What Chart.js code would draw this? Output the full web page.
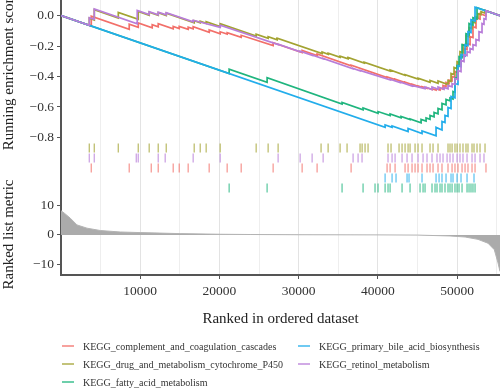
<!DOCTYPE html>
<html>
<head>
<meta charset="utf-8">
<script src="https://cdn.jsdelivr.net/npm/chart.js@4.4.1/dist/chart.umd.min.js"></script>
<style>
  html, body { margin: 0; padding: 0; background: #fff; }
  #wrap { position: relative; width: 500px; height: 390px; }
  #legend {
    position: absolute; left: 62px; top: 337px;
    display: grid; grid-template-columns: 236px auto;
    grid-template-rows: repeat(3, 18px); grid-auto-flow: column;
    font: 10px 'Liberation Serif', 'Times New Roman', serif; color: #333;
  }
  .item { display: flex; align-items: center; white-space: nowrap; }
  .key { width: 12px; height: 2px; margin-right: 9px; }
</style>
</head>
<body>
<div id="wrap">
  <canvas id="gsea" width="500" height="390"></canvas>
  <div id="legend"></div>
</div>
<script>
// running enrichment score, [rank, score]
const esComplement = [[0,0],[3820,-0.068],[3820,-0.003],[8610,-0.089],[8610,-0.056],[9750,-0.077],[9750,-0.047],[11510,-0.079],[11510,-0.059],[12270,-0.073],[12270,-0.053],[14160,-0.087],[14160,-0.071],[14920,-0.085],[14920,-0.070],[16050,-0.090],[16050,-0.075],[16680,-0.086],[16680,-0.073],[18700,-0.109],[18700,-0.094],[20090,-0.119],[20090,-0.106],[20970,-0.121],[20970,-0.111],[22740,-0.142],[22740,-0.129],[26770,-0.197],[26770,-0.177],[30430,-0.243],[30430,-0.228],[32320,-0.262],[32320,-0.252],[36610,-0.329],[36610,-0.325],[41150,-0.406],[41150,-0.402],[42160,-0.420],[42160,-0.417],[43420,-0.440],[43420,-0.437],[44300,-0.453],[44300,-0.450],[45060,-0.464],[45060,-0.461],[45560,-0.470],[45560,-0.467],[46190,-0.478],[46190,-0.473],[46820,-0.485],[46820,-0.479],[47330,-0.488],[47330,-0.479],[47830,-0.488],[47830,-0.475],[48210,-0.482],[48210,-0.459],[48590,-0.466],[48590,-0.439],[48970,-0.446],[48970,-0.423],[49350,-0.429],[49350,-0.400],[49720,-0.407],[49720,-0.367],[50100,-0.374],[50100,-0.315],[50480,-0.321],[50480,-0.262],[50860,-0.269],[50860,-0.216],[51240,-0.223],[51240,-0.184],[51620,-0.190],[51620,-0.138],[51990,-0.144],[51990,-0.072],[52370,-0.079],[52370,-0.013],[52880,-0.022],[52880,0.013],[53630,-0.001],[53630,0.032],[55400,0]];
const esDrug = [[0,0],[3570,-0.064],[3570,-0.016],[4200,-0.028],[4200,0.039],[7230,-0.015],[7230,0.022],[9750,-0.024],[9750,0.028],[11130,0.003],[11130,0.023],[12270,0.003],[12270,0.020],[13280,0.001],[13280,0.016],[16810,-0.047],[16810,-0.033],[17570,-0.047],[17570,-0.036],[18320,-0.050],[18320,-0.039],[20090,-0.071],[20090,-0.052],[24630,-0.134],[24630,-0.121],[26140,-0.148],[26140,-0.138],[27280,-0.158],[27280,-0.148],[32950,-0.249],[32950,-0.239],[33710,-0.253],[33710,-0.246],[35220,-0.273],[35220,-0.266],[36230,-0.284],[36230,-0.275],[38250,-0.311],[38250,-0.305],[41530,-0.364],[41530,-0.357],[43420,-0.391],[43420,-0.387],[45060,-0.416],[45060,-0.410],[46570,-0.437],[46570,-0.426],[47580,-0.445],[47580,-0.429],[48840,-0.452],[48840,-0.426],[49220,-0.433],[49220,-0.380],[49600,-0.387],[49600,-0.341],[49980,-0.348],[49980,-0.302],[50350,-0.308],[50350,-0.236],[50730,-0.243],[50730,-0.190],[51110,-0.197],[51110,-0.131],[51490,-0.138],[51490,-0.079],[51870,-0.085],[51870,-0.039],[52250,-0.046],[52250,-0.007],[52620,-0.013],[52620,0.013],[53000,0.007],[53000,0.026],[53510,0.017],[53510,0.034],[55400,0]];
const esFatty = [[0,0],[21220,-0.380],[21220,-0.351],[26010,-0.437],[26010,-0.408],[35470,-0.580],[35470,-0.570],[38120,-0.618],[38120,-0.607],[40010,-0.641],[40010,-0.630],[41530,-0.656],[41530,-0.646],[42910,-0.671],[42910,-0.662],[44050,-0.683],[44050,-0.679],[45440,-0.704],[45440,-0.682],[46070,-0.693],[46070,-0.672],[46570,-0.681],[46570,-0.656],[47080,-0.665],[47080,-0.636],[47580,-0.645],[47580,-0.610],[48080,-0.619],[48080,-0.577],[48590,-0.586],[48590,-0.551],[49090,-0.560],[49090,-0.541],[49470,-0.548],[49470,-0.498],[49720,-0.503],[49720,-0.407],[49980,-0.411],[49980,-0.328],[50230,-0.332],[50230,-0.269],[50610,-0.275],[50610,-0.190],[51110,-0.199],[51110,-0.118],[51490,-0.125],[51490,-0.052],[51990,-0.062],[51990,-0.013],[52500,-0.022],[52500,0.052],[55400,0]];
const esBile = [[0,0],[40900,-0.733],[40900,-0.718],[41780,-0.734],[41780,-0.725],[43800,-0.761],[43800,-0.741],[45560,-0.774],[45560,-0.758],[47330,-0.790],[47330,-0.734],[48080,-0.751],[48080,-0.695],[48460,-0.702],[48460,-0.656],[48840,-0.662],[48840,-0.603],[49220,-0.610],[49220,-0.531],[49720,-0.540],[49720,-0.446],[50100,-0.452],[50100,-0.328],[50480,-0.334],[50480,-0.256],[50990,-0.265],[50990,-0.190],[51360,-0.197],[51360,-0.105],[51740,-0.111],[51740,-0.026],[52250,-0.035],[52250,0.056],[55400,0]];
const esRetinol = [[0,0],[3570,-0.064],[3570,-0.013],[4200,-0.024],[4200,0.044],[9620,-0.053],[9620,0.035],[11130,0.008],[11130,0.026],[12270,0.006],[12270,0.023],[13280,0.005],[13280,0.020],[16680,-0.041],[16680,-0.030],[20090,-0.077],[20090,-0.062],[27400,-0.190],[27400,-0.187],[30180,-0.237],[30180,-0.233],[31690,-0.260],[31690,-0.258],[33080,-0.283],[33080,-0.281],[36860,-0.349],[36860,-0.346],[37740,-0.362],[37740,-0.359],[41530,-0.421],[41530,-0.418],[42790,-0.440],[42790,-0.436],[44300,-0.463],[44300,-0.459],[45940,-0.479],[45940,-0.469],[46820,-0.485],[46820,-0.469],[47580,-0.483],[47580,-0.469],[48340,-0.483],[48340,-0.472],[48840,-0.481],[48840,-0.459],[49350,-0.468],[49350,-0.446],[49720,-0.452],[49720,-0.413],[50100,-0.420],[50100,-0.361],[50480,-0.367],[50480,-0.295],[50860,-0.302],[50860,-0.256],[51240,-0.262],[51240,-0.236],[51620,-0.243],[51620,-0.216],[51990,-0.223],[51990,-0.190],[52370,-0.197],[52370,-0.157],[52750,-0.164],[52750,-0.105],[53130,-0.111],[53130,-0.052],[53380,-0.057],[53380,-0.020],[53630,-0.024],[53630,0.032],[55400,0]];

// gene hit positions (rank) for each set
const hitsDrug = [3570,4200,7230,9750,11130,12270,13280,16810,17570,18320,20090,24630,26140,27400,32820,33710,35220,36100,37740,38000,38370,38750,41270,41650,42660,43040,43420,43800,44050,44680,45060,45560,46570,46950,47580,48840,49090,49350,49720,49980,50350,50730,51110,51360,51870,52120,52500,52880,53510];
const hitsRetinol = [3570,4200,9500,9750,12270,13150,16680,20090,27400,30180,31690,33080,36860,37490,37990,41270,41780,42160,43040,43670,44300,45060,45690,46190,46820,47450,47830,48210,48720,49090,49470,49980,50350,50730,51240,51870,52250,52880,53380];
const hitsComplement = [3820,8610,11390,12270,14160,14920,16050,18700,20970,22740,26770,30430,32320,36610,41150,41530,42160,43420,43800,44300,44680,45060,45560,46190,46570,46950,47580,48080,48840,49350,49720,50100,50610,50990,51360,51870,52250,53630];
const hitsBile = [40900,41780,42280,43670,43920,45560,47330,47710,48080,48590,49220,49470,49980,50480,51240,52120];
const hitsFatty = [21220,26010,35470,38120,39630,40010,40900,41270,41530,43040,44050,45310,45690,45940,46820,47200,47450,47830,48080,48460,48840,49090,49350,49720,49980,50230,50610,51240,51490,51740,51990,52250];

// ranked list metric, [rank, value]
const rankedMetric = [[0,8.2],[420,7.4],[1170,5.7],[2020,3.4],[3280,2.3],[4960,1.5],[7480,1.0],[10000,0.8],[15040,0.45],[20090,0.23],[23870,0.15],[30000,0.07],[40000,0.02],[45000,-0.05],[49090,-0.35],[51000,-0.7],[52620,-1.5],[53880,-2.8],[54680,-5],[55150,-9.5],[55400,-12.4]];

const esTicks = [0, -0.2, -0.4, -0.6, -0.8];
const metricTicks = [10, 5, 0, -5, -10];
const rankGrid = [5000,10000,15000,20000,25000,30000,35000,40000,45000,50000,55000];
const rankLabels = [10000,20000,30000,40000,50000];

const serif = "'Liberation Serif', 'Times New Roman', serif";

const sets = [
  {name: 'KEGG_complement_and_coagulation_cascades', color: '#F2706A', es: esComplement, hits: hitsComplement, lane: 2.6},
  {name: 'KEGG_drug_and_metabolism_cytochrome_P450', color: '#A3A332', es: esDrug, hits: hitsDrug, lane: 4.6},
  {name: 'KEGG_fatty_acid_metabolism', color: '#1FB57E', es: esFatty, hits: hitsFatty, lane: 0.6},
  {name: 'KEGG_primary_bile_acid_biosynthesis', color: '#22ADEB', es: esBile, hits: hitsBile, lane: 1.6},
  {name: 'KEGG_retinol_metabolism', color: '#B87DD9', es: esRetinol, hits: hitsRetinol, lane: 3.6}
];

function fade(hex, a) {
  const n = parseInt(hex.slice(1), 16);
  return `rgba(${n >> 16},${(n >> 8) & 255},${n & 255},${a})`;
}
const minus = s => String(s).replace('-', '\u2212');

// the panels sit flush: no extra room for first/last tick labels
function noPad(s) {
  s.paddingTop = 0; s.paddingBottom = 0;
  s.paddingLeft = 0; s.paddingRight = 0;
}

const datasets = [];
// first dataset is painted on top, so go from last set to first
sets.slice().reverse().forEach(s => {
  datasets.push({
    type: 'line', data: s.es, yAxisID: 'yES',
    borderColor: s.color, borderWidth: 1.7, pointRadius: 0, tension: 0, fill: false
  });
});
sets.forEach(s => {
  datasets.push({
    type: 'scatter', data: s.hits.map(x => ({x: x, y: s.lane})), yAxisID: 'yRug',
    pointStyle: 'line', pointRotation: 90, pointRadius: 4.6,
    pointBorderColor: fade(s.color, 0.7), pointBorderWidth: 1.3
  });
});
datasets.push({
  type: 'line', data: rankedMetric, yAxisID: 'yMetric',
  fill: 'origin', backgroundColor: '#ababab', borderColor: '#b3b3b3',
  borderWidth: 1, pointRadius: 0, tension: 0
});

const tickFont = {family: serif, size: 13.5};
const titleFont = {family: serif, size: 15};

new Chart(document.getElementById('gsea'), {
  type: 'line',
  data: {datasets: datasets},
  options: {
    responsive: false,
    animation: false,
    events: [],
    layout: {autoPadding: false, padding: {left: 0, right: 0, top: 0, bottom: 60}},
    plugins: {legend: {display: false}, tooltip: {enabled: false}},
    scales: {
      x: {
        type: 'linear', min: 0, max: 55400,
        afterBuildTicks: s => { s.ticks = rankGrid.map(v => ({value: v})); },
        afterFit: s => { s.height = 55; noPad(s); },
        ticks: {
          autoSkip: false, maxRotation: 0, padding: 4,
          font: tickFont, color: '#333',
          callback: v => rankLabels.includes(v) ? String(v) : ''
        },
        grid: {
          color: ctx => (ctx.tick && ctx.tick.value % 10000 === 0) ? '#e3e3e3' : '#eeeeee',
          tickLength: 4,
          tickColor: ctx => (ctx.tick && rankLabels.includes(ctx.tick.value)) ? '#555' : 'rgba(0,0,0,0)'
        },
        border: {color: '#555', width: 2},
        title: {display: true, text: 'Ranked in ordered dataset', font: titleFont, color: '#222', padding: {top: 4, bottom: 2}}
      },
      yMetric: {
        type: 'linear', position: 'left', stack: 'gsea', stackWeight: 81,
        min: -13.6, max: 13.9,
        afterBuildTicks: s => { s.ticks = metricTicks.map(v => ({value: v})); },
        afterFit: s => { s.width = 61; noPad(s); },
        ticks: {font: tickFont, color: '#333', padding: 3, callback: v => minus(v)},
        grid: {drawOnChartArea: false, tickLength: 4, tickColor: '#555'},
        border: {color: '#555', width: 2},
        title: {display: true, text: 'Ranked list metric', font: titleFont, color: '#222', padding: 0}
      },
      yRug: {
        type: 'linear', position: 'left', stack: 'gsea', stackWeight: 52,
        min: 0, max: 5.2,
        afterFit: s => { s.width = 61; noPad(s); },
        ticks: {display: false},
        grid: {drawOnChartArea: false, drawTicks: false},
        border: {color: '#555', width: 2}
      },
      yES: {
        type: 'linear', position: 'left', stack: 'gsea', stackWeight: 142,
        min: -0.83, max: 0.103,
        afterBuildTicks: s => { s.ticks = esTicks.map(v => ({value: v})); },
        afterFit: s => { s.width = 61; noPad(s); },
        ticks: {font: tickFont, color: '#333', padding: 3, callback: v => minus(v.toFixed(1))},
        grid: {drawOnChartArea: false, tickLength: 4, tickColor: '#555'},
        border: {color: '#555', width: 2},
        title: {display: true, text: 'Running enrichment score', font: titleFont, color: '#222', padding: 0}
      }
    }
  }
});

// legend: two columns, filled top to bottom
const legend = document.getElementById('legend');
sets.forEach(s => {
  const item = document.createElement('div');
  item.className = 'item';
  const key = document.createElement('span');
  key.className = 'key';
  key.style.background = fade(s.color, 0.65);
  const label = document.createElement('span');
  label.textContent = s.name;
  item.appendChild(key);
  item.appendChild(label);
  legend.appendChild(item);
});
</script>
</body>
</html>
